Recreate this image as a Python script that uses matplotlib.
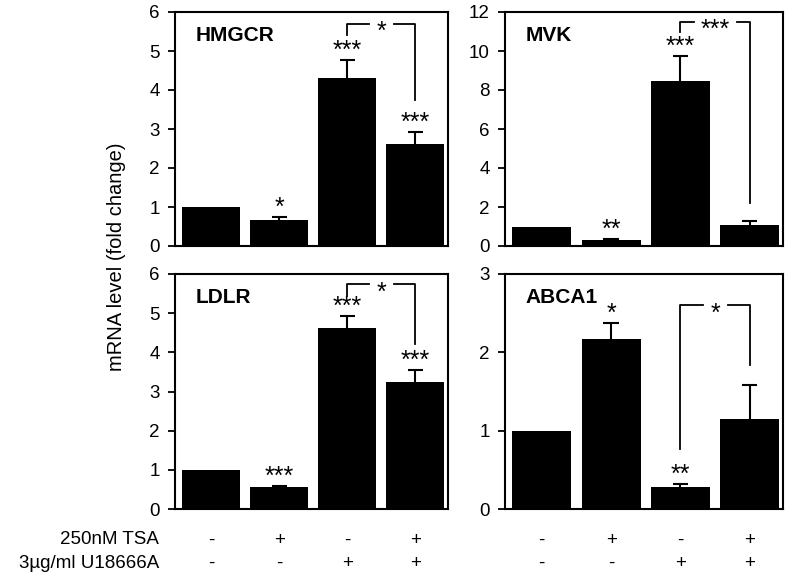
import matplotlib.pyplot as plt
import numpy as np

plt.rcParams['font.family'] = ['Liberation Sans', 'DejaVu Sans']

genes = ["HMGCR", "MVK", "LDLR", "ABCA1"]
means = [
    [1.0, 0.67, 4.32, 2.62],
    [1.0, 0.30, 8.45, 1.06],
    [1.0, 0.55, 4.63, 3.24],
    [1.0, 2.17, 0.28, 1.15],
]
errs = [
    [0.0, 0.08, 0.44, 0.31],
    [0.0, 0.05, 1.28, 0.24],
    [0.0, 0.04, 0.31, 0.31],
    [0.0, 0.21, 0.04, 0.43],
]
stars = [
    ["", "*", "***", "***"],
    ["", "**", "***", ""],
    ["", "***", "***", "***"],
    ["", "*", "**", ""],
]
ymax = [6, 12, 6, 3]
ystep = [1, 2, 1, 1]
# bracket between bars 3 and 4: (left end, top, right end, label)
brackets = [
    (5.4, 5.7, 3.75, "*"),
    (11.0, 11.5, 2.2, "***"),
    (5.45, 5.74, 4.22, "*"),
    (0.77, 2.6, 1.84, "*"),
]
tsa = ["-", "+", "-", "+"]
u18 = ["-", "-", "+", "+"]

fig = plt.figure(figsize=(7.87, 5.79), dpi=100)
W, H = 787, 579
boxes = [(175, 12, 448, 246), (505, 12, 783, 246), (175, 274, 448, 509), (505, 274, 783, 509)]

x = np.arange(4)
for i, (l, t, r, b) in enumerate(boxes):
    ax = fig.add_axes([l / W, 1 - b / H, (r - l) / W, (b - t) / H])
    m = np.array(means[i])
    e = np.array(errs[i])
    ax.bar(x, m, width=0.85, color='black', zorder=2)
    # one-sided error bars (upper only)
    has = e > 0
    ax.vlines(x[has], m[has], m[has] + e[has], color='black', lw=1.5, zorder=3)
    ax.hlines(m[has] + e[has], x[has] - 0.11, x[has] + 0.11, color='black', lw=1.5, zorder=3)
    ax.set_xlim(-0.53, 3.48)
    ax.set_ylim(0, ymax[i])
    ax.set_yticks(np.arange(0, ymax[i] + 1, ystep[i]))
    ax.set_xticks([])
    ax.tick_params(axis='y', direction='out', length=5, width=1.3, labelsize=13.5, pad=6)
    for s in ax.spines.values():
        s.set_linewidth(1.5)
    ax.text(0.075, 0.9, genes[i], transform=ax.transAxes, fontsize=15,
            fontweight='bold', va='center', ha='left')
    for j in range(4):
        if stars[i][j]:
            ax.annotate(stars[i][j], xy=(x[j], m[j] + e[j]), xytext=(0, 1.5),
                        textcoords='offset points', ha='center', va='baseline', fontsize=18)
    lb, tp, rb, lab = brackets[i]
    gap = 0.36 if len(lab) == 1 else 0.62
    ax.plot([2, 2, 2.5 - gap / 2], [lb, tp, tp], color='black', lw=1.3)
    ax.plot([2.5 + gap / 2, 3, 3], [tp, tp, rb], color='black', lw=1.3)
    ax.annotate(lab, xy=(2.5, tp), xytext=(0, -11), textcoords='offset points',
                ha='center', va='baseline', fontsize=18)
    if i >= 2:
        for j in range(4):
            ax.text(x[j], -0.132 * ymax[i], tsa[j], ha='center', va='center', fontsize=13.5)
            ax.text(x[j], -0.23 * ymax[i], u18[j], ha='center', va='center', fontsize=13.5)

fig.text(159 / W, 1 - 540 / H, "250nM TSA", ha='right', va='center', fontsize=13.5)
fig.text(159 / W, 1 - 563 / H, "3µg/ml U18666A", ha='right', va='center', fontsize=13.5)
fig.text(117 / W, 1 - 257 / H, "mRNA level (fold change)", rotation=90,
         ha='center', va='center', fontsize=14.5)

fig.savefig("out.png", dpi=100)
